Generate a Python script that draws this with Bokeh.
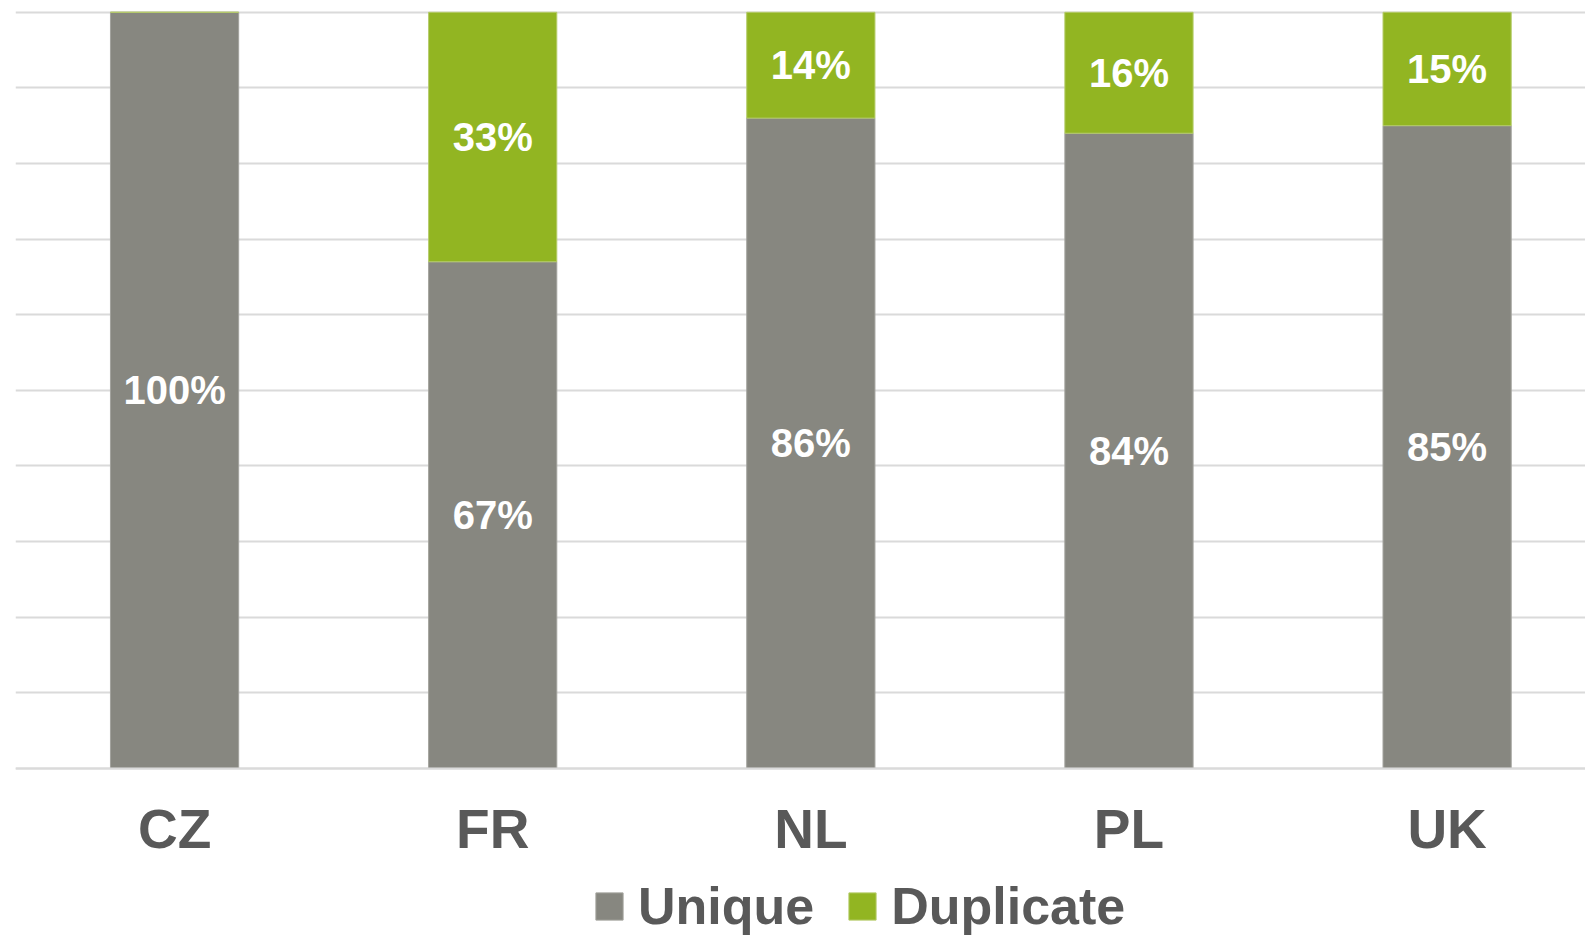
from bokeh.plotting import figure
from bokeh.models import ColumnDataSource, Range1d, FixedTicker, Legend, LegendItem, LabelSet
from bokeh.core.properties import value
from bokeh.embed import file_html
from bokeh.resources import INLINE

categories = ["CZ", "FR", "NL", "PL", "UK"]
unique = [100, 67, 86, 84, 85]
duplicate = [0, 33, 14, 16, 15]

GREY = "#878780"
GREEN = "#92B522"
TEXT = "#595959"
FONT = "Liberation Sans"

xs = list(range(len(categories)))
d_top = [u + d for u, d in zip(unique, duplicate)]

src = ColumnDataSource(dict(
    x=xs, cat=categories, u_top=unique, d_bottom=unique, d_top=d_top,
    u_mid=[u / 2 for u in unique],
    d_mid=[u + d / 2 for u, d in zip(unique, duplicate)],
    u_lab=[f"{u}%" if u > 0 else "" for u in unique],
    d_lab=[f"{d}%" if d > 0 else "" for d in duplicate],
))

p = figure(frame_width=1570, frame_height=928, output_backend="svg", toolbar_location=None,
           x_range=Range1d(-0.5, 4.435), y_range=Range1d(-22.25, 100.5),
           min_border_left=15, min_border_right=0, min_border_top=8, min_border_bottom=0)

p.outline_line_color = None
p.background_fill_color = "white"

r_u = p.vbar(x="x", bottom=0, top="u_top", width=0.403, source=src,
             fill_color=GREY, line_color="#A3A39D", line_width=1)
r_d = p.vbar(x="x", bottom="d_bottom", top="d_top", width=0.403, source=src,
             fill_color=GREEN, line_color="#B5CC6A", line_width=1)

for ycol, tcol in (("u_mid", "u_lab"), ("d_mid", "d_lab")):
    p.add_layout(LabelSet(x="x", y=ycol, text=tcol, source=src, text_align="center",
                          text_baseline="middle", text_color="white",
                          text_font=value(FONT), text_font_style="bold",
                          text_font_size="40px"))

p.yaxis.visible = False
p.ygrid.ticker = FixedTicker(ticks=[0, 10, 20, 30, 40, 50, 60, 70, 80, 90, 100])
p.ygrid.grid_line_color = "#DADADA"
p.ygrid.grid_line_width = 2
p.xgrid.visible = False

ax = p.xaxis[0]
ax.fixed_location = 0
ax.ticker = FixedTicker(ticks=xs)
ax.major_label_overrides = {i: c for i, c in enumerate(categories)}
ax.axis_line_color = "#DADADA"
ax.axis_line_width = 2
ax.major_tick_line_color = None
ax.minor_tick_line_color = None
ax.major_label_text_font = FONT
ax.major_label_text_font_style = "bold"
ax.major_label_text_font_size = "55px"
ax.major_label_text_color = TEXT
ax.major_label_standoff = 24

legend = Legend(items=[LegendItem(label="Unique", renderers=[r_u]),
                       LegendItem(label="Duplicate", renderers=[r_d])],
                orientation="horizontal", location=(577, 0),
                label_text_font=FONT, label_text_font_style="bold",
                label_text_font_size="52px", label_text_color=TEXT,
                glyph_width=34, glyph_height=34, spacing=31, padding=0,
                margin=0, label_standoff=12, border_line_color=None,
                background_fill_alpha=0)
p.add_layout(legend, "center")

open("out.html", "w").write(file_html(p, INLINE))
